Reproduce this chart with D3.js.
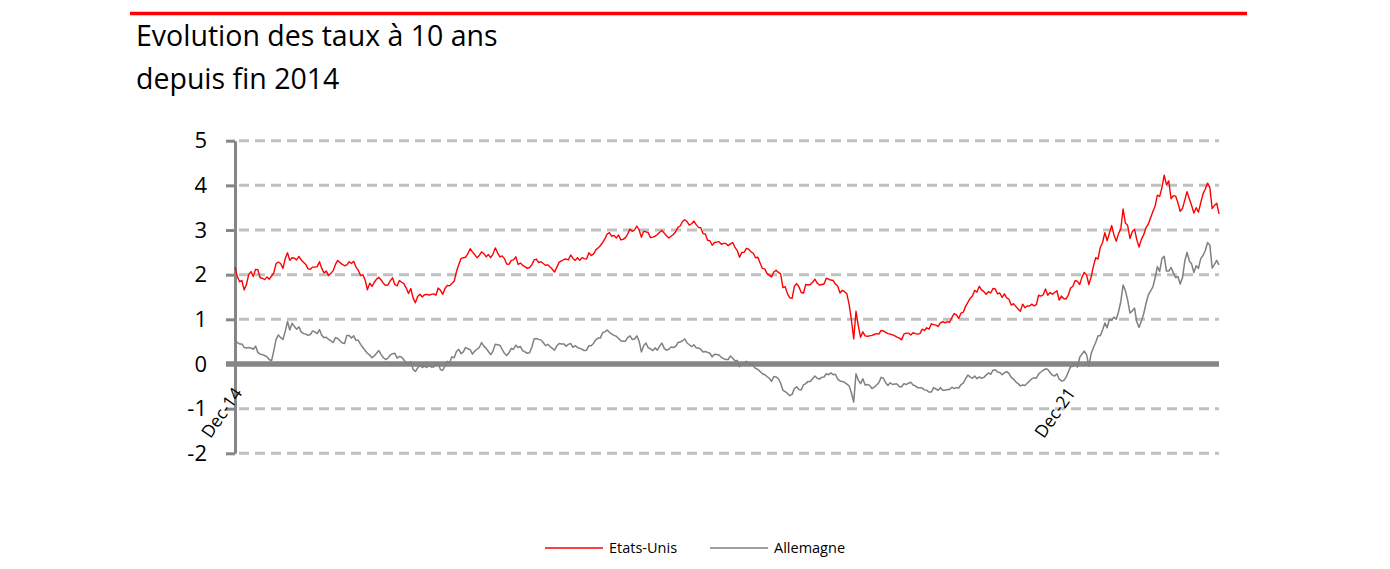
<!DOCTYPE html>
<html>
<head>
<meta charset="utf-8">
<script src="https://cdn.jsdelivr.net/npm/d3@7"></script>
<style>
  body { margin: 0; background: #fff; }
  svg { display: block; font-family: "Open Sans", Lato, sans-serif; }
</style>
</head>
<body>
<script>
// Weekly 10-year yields (%), one value per Wednesday from 31 Dec 2014 to 5 Apr 2023.
const startDate = "2014-12-31";

const usYields = [
  2.17,
  // 2015
  1.96, 1.84, 1.87, 1.66,  1.78, 2.00, 2.07, 1.96,  2.12, 2.11, 1.93, 1.92,
  1.89, 1.95, 1.90, 1.97, 2.04,  2.25, 2.28, 2.25, 2.14,  2.36, 2.49, 2.32, 2.38,
  2.37, 2.33, 2.41, 2.33, 2.28,  2.23, 2.13, 2.12, 2.17,  2.17, 2.18, 2.29, 2.14, 2.04,
  2.08, 1.98, 2.03, 2.09,  2.23, 2.32, 2.27, 2.23,  2.20, 2.22, 2.29, 2.25, 2.30,
  // 2016
  2.17, 2.10, 1.98, 2.00,  1.88, 1.66, 1.81, 1.74,  1.83, 1.90, 1.94, 1.88, 1.81,
  1.76, 1.77, 1.86, 1.93,  1.78, 1.75, 1.87, 1.83,  1.80, 1.70, 1.58, 1.69, 1.48,
  1.37, 1.51, 1.56, 1.50,  1.55, 1.56, 1.54, 1.56, 1.57,  1.54, 1.70, 1.65, 1.56,
  1.69, 1.76, 1.75, 1.80,  1.85, 2.07, 2.22, 2.36, 2.38,  2.39, 2.47, 2.58, 2.51,
  // 2017
  2.45, 2.38, 2.43, 2.51,  2.47, 2.40, 2.45, 2.38,  2.46, 2.60, 2.49, 2.40, 2.42,
  2.36, 2.24, 2.23, 2.32,  2.33, 2.40, 2.23, 2.26, 2.21,  2.18, 2.14, 2.16, 2.22,
  2.33, 2.35, 2.27, 2.29,  2.25, 2.21, 2.22, 2.17, 2.12,  2.06, 2.17, 2.28, 2.31,
  2.34, 2.35, 2.33, 2.44,  2.37, 2.32, 2.38, 2.32, 2.38,  2.36, 2.35, 2.49, 2.43,
  // 2018
  2.46, 2.55, 2.60, 2.65, 2.72,  2.80, 2.91, 2.94, 2.86,  2.88, 2.82, 2.89, 2.78,
  2.79, 2.83, 2.91, 3.02,  2.97, 3.00, 3.09, 3.00, 2.84,  2.97, 2.96, 2.94, 2.83,
  2.84, 2.86, 2.90, 2.95,  2.99, 2.93, 2.87, 2.82, 2.86,  2.90, 2.96, 3.06, 3.09,
  3.19, 3.23, 3.19, 3.11, 3.14,  3.20, 3.12, 3.06, 3.05,  2.92, 2.91, 2.77, 2.76,
  // 2019
  2.66, 2.72, 2.73, 2.74, 2.68,  2.70, 2.70, 2.65, 2.69,  2.72, 2.61, 2.54, 2.39,
  2.50, 2.50, 2.59, 2.57,  2.51, 2.48, 2.38, 2.39, 2.26,  2.14, 2.13, 2.03, 1.99,
  1.95, 2.06, 2.10, 2.05, 2.02,  1.71, 1.73, 1.57, 1.48,  1.47, 1.74, 1.80, 1.73,
  1.60, 1.59, 1.78, 1.77, 1.78,  1.83, 1.90, 1.81, 1.77,  1.78, 1.79, 1.92, 1.90,
  // 2020
  1.88, 1.87, 1.79, 1.74, 1.59,  1.65, 1.62, 1.57, 1.33,  0.98, 0.56, 1.18, 0.86,
  0.60, 0.72, 0.63, 0.62, 0.63,  0.64, 0.66, 0.68, 0.67,  0.75, 0.74, 0.71, 0.68,
  0.67, 0.65, 0.63, 0.60, 0.58,  0.54, 0.67, 0.69, 0.69,  0.65, 0.70, 0.68, 0.67, 0.68,
  0.78, 0.75, 0.81, 0.78,  0.90, 0.88, 0.87, 0.84,  0.92, 0.95, 0.92, 0.95, 0.93,
  // 2021
  1.04, 1.13, 1.10, 1.02,  1.14, 1.16, 1.29, 1.38,  1.47, 1.52, 1.65, 1.61, 1.74,
  1.66, 1.62, 1.56, 1.62,  1.59, 1.69, 1.68, 1.57,  1.59, 1.49, 1.57, 1.48, 1.45,
  1.32, 1.35, 1.29, 1.23,  1.18, 1.34, 1.26, 1.30,  1.30, 1.34, 1.30, 1.33, 1.54,
  1.52, 1.55, 1.68, 1.54,  1.60, 1.56, 1.60, 1.64,  1.43, 1.52, 1.46, 1.46, 1.54,
  // 2022
  1.70, 1.74, 1.87, 1.85,  1.78, 1.95, 2.05, 1.99,  1.78, 1.95, 2.19, 2.38, 2.35,
  2.61, 2.72, 2.94, 2.76,  2.93, 3.10, 2.89, 2.75,  2.92, 3.03, 3.47, 3.16, 3.10,
  2.81, 2.96, 3.02, 2.78,  2.62, 2.79, 2.89, 3.05, 3.13,  3.27, 3.41, 3.53, 3.78,
  3.75, 3.95, 4.23, 4.01,  4.10, 3.70, 3.77, 3.76, 3.61,  3.42, 3.48, 3.67, 3.86,
  // 2023
  3.70, 3.55, 3.38, 3.50,  3.40, 3.61, 3.81, 3.92,  4.05, 3.95, 3.48, 3.55, 3.60,
  3.36
];

const deYields = [
  0.54,
  // 2015
  0.48, 0.45, 0.45, 0.37,  0.36, 0.37, 0.36, 0.33,  0.40, 0.26, 0.22, 0.21,
  0.19, 0.16, 0.10, 0.07, 0.30,  0.55, 0.65, 0.59, 0.55,  0.73, 0.95, 0.76, 0.91,
  0.84, 0.78, 0.83, 0.72, 0.68,  0.67, 0.64, 0.66, 0.74,  0.72, 0.68, 0.77, 0.64, 0.59,
  0.60, 0.55, 0.52, 0.48,  0.59, 0.57, 0.52, 0.47,  0.46, 0.64, 0.64, 0.58, 0.63,
  // 2016
  0.53, 0.53, 0.44, 0.37,  0.30, 0.24, 0.20, 0.14,  0.18, 0.24, 0.30, 0.21, 0.14,
  0.10, 0.13, 0.20, 0.23,  0.24, 0.13, 0.17, 0.15,  0.09, 0.03, -0.02, 0.05, -0.12,
  -0.17, -0.09, -0.03, -0.08,  -0.05, -0.08, -0.03, -0.07, -0.07,  0.01, 0.02, -0.13, -0.14,
  -0.04, 0.06, 0.02, 0.16,  0.14, 0.28, 0.33, 0.23, 0.27,  0.37, 0.34, 0.32, 0.22,
  // 2017
  0.29, 0.33, 0.37, 0.48,  0.40, 0.35, 0.28, 0.21,  0.29, 0.44, 0.43, 0.42, 0.33,
  0.24, 0.19, 0.25, 0.35,  0.33, 0.42, 0.37, 0.39, 0.30,  0.27, 0.24, 0.25, 0.37,
  0.56, 0.57, 0.55, 0.54,  0.48, 0.41, 0.44, 0.39, 0.35,  0.31, 0.41, 0.46, 0.45,
  0.45, 0.40, 0.44, 0.46,  0.37, 0.41, 0.37, 0.35, 0.33,  0.30, 0.31, 0.41, 0.41,
  // 2018
  0.46, 0.54, 0.58, 0.58, 0.70,  0.72, 0.76, 0.71, 0.67,  0.64, 0.62, 0.57, 0.52,
  0.51, 0.51, 0.59, 0.63,  0.55, 0.56, 0.63, 0.51, 0.27,  0.41, 0.47, 0.36, 0.34,
  0.30, 0.36, 0.31, 0.40,  0.47, 0.35, 0.31, 0.33, 0.38,  0.37, 0.39, 0.48, 0.49,
  0.52, 0.56, 0.47, 0.43, 0.39,  0.43, 0.36, 0.36, 0.33,  0.27, 0.28, 0.26, 0.24,
  // 2019
  0.16, 0.22, 0.21, 0.20, 0.15,  0.12, 0.10, 0.10, 0.18,  0.13, 0.07, 0.08, -0.06,
  -0.01, 0.02, 0.06, 0.01,  0.00, -0.04, -0.10, -0.12, -0.17,  -0.22, -0.24, -0.28, -0.32,
  -0.39, -0.28, -0.29, -0.33, -0.43,  -0.59, -0.62, -0.66, -0.71,  -0.68, -0.55, -0.51, -0.57,
  -0.58, -0.47, -0.44, -0.39, -0.39,  -0.33, -0.27, -0.32, -0.34,  -0.30, -0.29, -0.22, -0.24,
  // 2020
  -0.20, -0.24, -0.23, -0.34, -0.38,  -0.39, -0.41, -0.45, -0.49,  -0.65, -0.85, -0.22, -0.36,
  -0.44, -0.33, -0.47, -0.46, -0.48,  -0.55, -0.52, -0.47, -0.42,  -0.30, -0.32, -0.42, -0.48,
  -0.42, -0.46, -0.45, -0.45, -0.51,  -0.51, -0.44, -0.46, -0.43,  -0.41, -0.47, -0.49, -0.53, -0.53,
  -0.54, -0.58, -0.59, -0.63,  -0.63, -0.53, -0.56, -0.59,  -0.53, -0.59, -0.59, -0.57, -0.57,
  // 2021
  -0.52, -0.55, -0.53, -0.54,  -0.46, -0.43, -0.33, -0.25,  -0.29, -0.32, -0.27, -0.33, -0.29,
  -0.32, -0.30, -0.25, -0.20,  -0.23, -0.14, -0.13, -0.18,  -0.19, -0.24, -0.20, -0.17, -0.21,
  -0.30, -0.34, -0.40, -0.44,  -0.49, -0.47, -0.48, -0.43,  -0.38, -0.33, -0.31, -0.32, -0.22,
  -0.18, -0.14, -0.11, -0.12,  -0.19, -0.25, -0.27, -0.22,  -0.34, -0.38, -0.37, -0.30, -0.18,
  // 2022
  -0.06, -0.05, 0.02, -0.07,  0.15, 0.22, 0.29, 0.21,  -0.05, 0.23, 0.37, 0.48, 0.63,
  0.63, 0.76, 0.92, 0.81,  1.00, 0.98, 1.05, 1.00,  1.17, 1.40, 1.77, 1.64, 1.43,
  1.14, 1.19, 1.25, 0.94,  0.82, 0.96, 1.12, 1.35, 1.54,  1.63, 1.72, 1.92, 2.18,
  2.07, 2.36, 2.41, 2.08,  2.08, 2.16, 2.04, 1.93, 1.96,  1.79, 1.93, 2.30, 2.50,
  // 2023
  2.31, 2.24, 2.05, 2.20,  2.14, 2.36, 2.43, 2.54,  2.72, 2.66, 2.15, 2.23, 2.32,
  2.22
];

const yTicks = [-2, -1, 0, 1, 2, 3, 4, 5];
const xTickDates = ["2014-12-31", "2021-12-29"];
const xTickLabels = ["Dec-14", "Dec-21"];
const seriesNames = ["Etats-Unis", "Allemagne"];
const seriesColors = ["#ff0000", "#808080"];
const titleLines = ["Evolution des taux à 10 ans", "depuis fin 2014"];

const W = 1390, H = 569;
const plot = { left: 235, right: 1219, top: 140.7, bottom: 453.3 };
const axisColor = "#868686";

const parse = d3.timeParse("%Y-%m-%d");
const t0 = parse(startDate);
const dates = usYields.map((_, i) => d3.timeDay.offset(t0, 7 * i));

const svg = d3.select("body").append("svg")
  .attr("width", W)
  .attr("height", H);

// red rule at the top
svg.append("line")
  .attr("x1", 130).attr("x2", 1247)
  .attr("y1", 13.5).attr("y2", 13.5)
  .attr("stroke", "#ff0000")
  .attr("stroke-width", 3.5);

// title
svg.append("g").selectAll("text")
  .data(titleLines)
  .join("text")
  .attr("x", 136)
  .attr("y", (d, i) => 46 + i * 43)
  .attr("font-size", "28.5px")
  .attr("fill", "#000")
  .text(d => d);

// scales
const x = d3.scaleTime()
  .domain([t0, dates[dates.length - 1]])
  .range([plot.left, plot.right]);

const y = d3.scaleLinear()
  .domain([-2, 5])
  .range([plot.bottom, plot.top]);

// dashed gridlines
svg.append("g").selectAll("line")
  .data(yTicks.filter(v => v !== 0))
  .join("line")
  .attr("x1", plot.left + 4).attr("x2", plot.right)
  .attr("y1", d => y(d)).attr("y2", d => y(d))
  .attr("stroke", "#c0c0c0")
  .attr("stroke-width", 3)
  .attr("stroke-dasharray", "10,6");

// y axis
const yAxis = svg.append("g")
  .attr("transform", `translate(${plot.left},0)`)
  .call(d3.axisLeft(y)
    .tickValues(yTicks)
    .tickFormat(d => String(d))
    .tickSizeInner(9).tickSizeOuter(0).tickPadding(19));

yAxis.select(".domain")
  .attr("stroke", axisColor)
  .attr("stroke-width", 3);
yAxis.selectAll(".tick line")
  .attr("stroke", axisColor)
  .attr("stroke-width", 3);
yAxis.selectAll(".tick text")
  .attr("font-family", "'Open Sans', sans-serif")
  .attr("font-size", "22px")
  .attr("fill", "#000");

// zero (category) axis
svg.append("line")
  .attr("x1", plot.left - 9).attr("x2", plot.right)
  .attr("y1", y(0)).attr("y2", y(0))
  .attr("stroke", axisColor)
  .attr("stroke-width", 5.5);

// x labels, rotated
svg.append("g").selectAll("text")
  .data(xTickDates)
  .join("text")
  .attr("transform", d => `translate(${x(parse(d)) + 8},${y(0) + 29}) rotate(-55)`)
  .attr("text-anchor", "end")
  .attr("font-size", "17.5px")
  .attr("fill", "#000")
  .text((d, i) => xTickLabels[i]);

// series
const line = d3.line()
  .x((d, i) => x(dates[i]))
  .y(d => y(d));

svg.append("path")
  .datum(deYields)
  .attr("fill", "none")
  .attr("stroke", seriesColors[1])
  .attr("stroke-width", 1.5)
  .attr("stroke-linejoin", "round")
  .attr("d", line);

svg.append("path")
  .datum(usYields)
  .attr("fill", "none")
  .attr("stroke", seriesColors[0])
  .attr("stroke-width", 1.4)
  .attr("stroke-linejoin", "round")
  .attr("d", line);

// legend
const legendX = [545, 710];
const legend = svg.append("g").selectAll("g")
  .data(seriesNames)
  .join("g")
  .attr("transform", (d, i) => `translate(${legendX[i]},548)`);

legend.append("line")
  .attr("x1", 0).attr("x2", 58)
  .attr("stroke", (d, i) => seriesColors[i])
  .attr("stroke-width", 1.5);

legend.append("text")
  .attr("x", 64)
  .attr("y", 5)
  .attr("font-size", "14.5px")
  .attr("fill", "#000")
  .text(d => d);
</script>
</body>
</html>
